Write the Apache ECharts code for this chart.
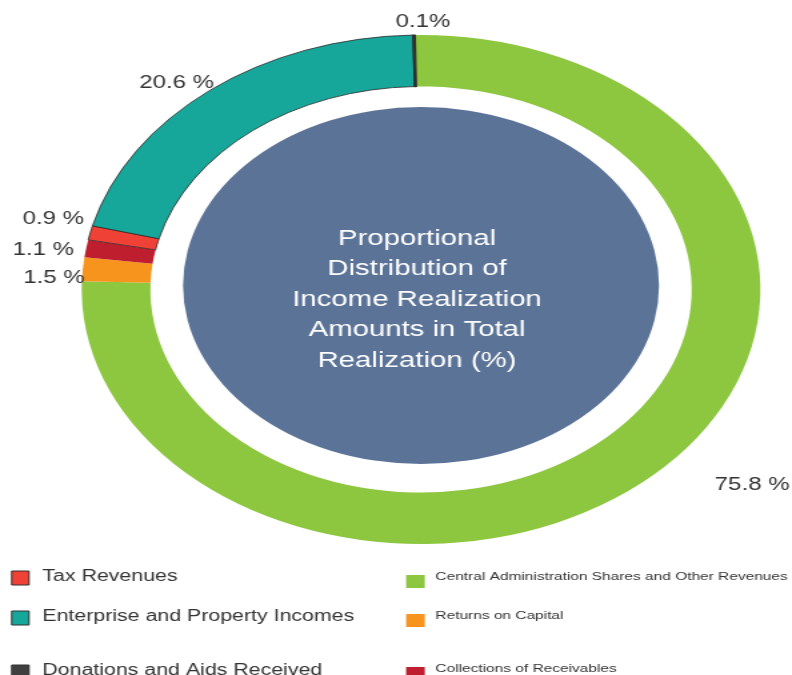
<!DOCTYPE html>
<html>
<head>
<meta charset="utf-8">
<script src="https://cdn.jsdelivr.net/npm/echarts@6/dist/echarts.min.js"></script>
<style>
  html, body { margin: 0; padding: 0; background: #fff; overflow: hidden; }
  /* the chart is laid out on a narrower canvas and widened to the page width */
  #chart { width: 594px; height: 675px; transform: scaleX(1.3333); transform-origin: 0 0; }
</style>
</head>
<body>
<div id="chart"></div>
<script>
// Income realization shares (%), listed clockwise from the top of the ring
const categories = [
  'Central Administration Shares and Other Revenues',
  'Returns on Capital',
  'Collections of Receivables',
  'Tax Revenues',
  'Enterprise and Property Incomes',
  'Donations and Aids Received'
];
const shares = [75.8, 1.5, 1.1, 0.9, 20.6, 0.1];
const labelSpacer = [' ', ' ', ' ', ' ', ' ', ''];

const centerTitle = 'Proportional\nDistribution of\nIncome Realization\nAmounts in Total\nRealization (%)';

// legend columns
const legendLeft = ['Tax Revenues', 'Enterprise and Property Incomes', 'Donations and Aids Received'];
const legendRight = ['Central Administration Shares and Other Revenues', 'Returns on Capital', 'Collections of Receivables'];

// styling
const colors = {
  'Central Administration Shares and Other Revenues': '#8DC63F',
  'Returns on Capital': '#F7941E',
  'Collections of Receivables': '#BF1E2E',
  'Tax Revenues': '#EF4136',
  'Enterprise and Property Incomes': '#17A79A',
  'Donations and Aids Received': '#404041'
};
const outlined = { 'Tax Revenues': 0.8, 'Enterprise and Property Incomes': 0.8, 'Donations and Aids Received': 1.2 };
const FONT = '"Liberation Sans", Arial, sans-serif';
const CX = 315.8, CY = 289.5, R_IN = 203, R_OUT = 254.5;

// label placement around the ring: [angle in degrees, distance from centre]
const labelPolar = {
  'Central Administration Shares and Other Revenues': [-38.2, 316],
  'Returns on Capital': [177.6, 275.5],
  'Collections of Receivables': [172.1, 286],
  'Tax Revenues': [165.7, 284.5],
  'Enterprise and Property Incomes': [131.6, 276],
  'Donations and Aids Received': [89.7, 267.5]
};

const pieData = categories.map((name, i) => ({
  name: name,
  value: shares[i],
  itemStyle: {
    color: colors[name],
    borderColor: outlined[name] ? '#2b2b2b' : colors[name],
    borderWidth: outlined[name] || 0
  }
}));

function legendBlock(name, top, left, opts) {
  return {
    data: [name],
    orient: 'vertical',
    left: left,
    top: top,
    padding: 0,
    icon: 'rect',
    itemWidth: opts.w,
    itemHeight: opts.h,
    selectedMode: false,
    itemStyle: opts.border ? { borderColor: '#333', borderWidth: 1 } : { borderWidth: 0 },
    formatter: '{t|{name}}',
    textStyle: {
      fontFamily: FONT,
      fontSize: opts.fs,
      color: '#333',
      padding: [0, 0, 0, opts.gap],
      rich: {
        t: {
          fontFamily: FONT,
          fontSize: opts.fs,
          color: '#333',
          padding: [0, 0, opts.lift, 0]
        }
      }
    }
  };
}

const legendTopsLeft = [569, 609, 663];
const legendTopsRight = [571, 610, 663];
const legends = [];
legendLeft.forEach((n, i) => legends.push(legendBlock(n, legendTopsLeft[i], 8.3, { w: 13, h: 14, fs: 16, gap: 5, lift: 2, border: true })));
legendRight.forEach((n, i) => legends.push(legendBlock(n, legendTopsRight[i], 304.6, { w: 14, h: 13, fs: 11.6, gap: 3, lift: 9, border: false })));

const chart = echarts.init(document.getElementById('chart'), null, { renderer: 'canvas' });
chart.setOption({
  animation: false,
  backgroundColor: '#fff',
  legend: legends,
  graphic: [
    {
      type: 'circle',
      shape: { cx: CX, cy: 285.5, r: 178.5 },
      style: { fill: '#5B7397' },
      z: 1
    },
    {
      type: 'text',
      x: 312.8,
      y: 299.5,
      z: 2,
      style: {
        text: centerTitle,
        fill: '#fff',
        font: '22px ' + FONT,
        lineHeight: 30.5,
        align: 'center',
        verticalAlign: 'middle'
      }
    }
  ],
  series: [{
    type: 'pie',
    center: [CX, CY],
    radius: [R_IN, R_OUT],
    startAngle: 91,
    clockwise: true,
    avoidLabelOverlap: false,
    silent: true,
    emphasis: { disabled: true },
    label: {
      show: true,
      position: 'outside',
      fontFamily: FONT,
      fontSize: 18,
      color: '#333',
      formatter: p => p.value.toFixed(1) + labelSpacer[p.dataIndex] + '%'
    },
    labelLine: { show: false },
    labelLayout: function (params) {
      const pos = labelPolar[categories[params.dataIndex]];
      const a = pos[0] * Math.PI / 180;
      return {
        x: CX + pos[1] * Math.cos(a),
        y: CY - pos[1] * Math.sin(a),
        align: 'center',
        verticalAlign: 'middle'
      };
    },
    data: pieData
  }]
});
</script>
</body>
</html>
